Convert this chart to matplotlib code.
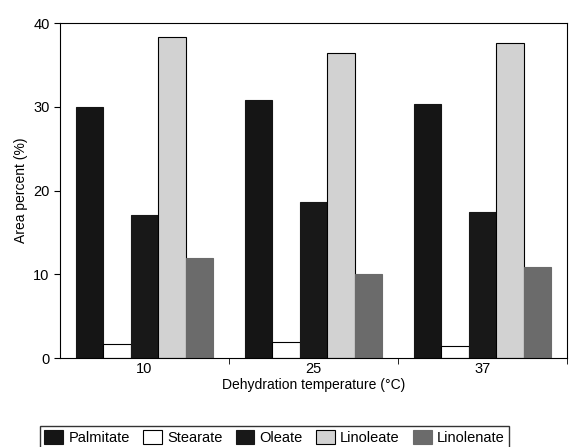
import numpy as np
import matplotlib.pyplot as plt

plt.rcParams['font.family'] = ['Liberation Sans', 'DejaVu Sans']

temps = ['10', '25', '37']
acids = ['Palmitate', 'Stearate', 'Oleate', 'Linoleate', 'Linolenate']
palmitate = [30.0, 30.8, 30.3]
stearate = [1.7, 1.9, 1.4]
oleate = [17.1, 18.6, 17.4]
linoleate = [38.3, 36.4, 37.6]
linolenate = [11.9, 10.0, 10.9]

values = [palmitate, stearate, oleate, linoleate, linolenate]
colors = ['#151515', 'white', '#181818', '#d2d2d2', '#6b6b6b']

fig = plt.figure(figsize=(5.79, 4.47), dpi=100)
ax = fig.add_axes([0.1036, 0.199, 0.8756, 0.7495])

x = np.arange(len(temps))
w = 0.163
for i, (name, vals) in enumerate(zip(acids, values)):
    edge = 'black' if name in ('Stearate', 'Linoleate') else colors[i]
    ax.bar(x + (i - 2) * w, vals, w, color=colors[i], edgecolor=edge,
           linewidth=0.8, label=name)

ax.set_xlim(-0.5, 2.5)
ax.set_ylim(0, 40)
ax.set_yticks([0, 10, 20, 30, 40])
ax.set_xticks(x)
ax.set_xticklabels(temps)
ax.set_xticks([0.5, 1.5, 2.5], minor=True)
ax.tick_params(axis='x', which='major', length=0, labelsize=10.5, pad=3)
ax.tick_params(axis='x', which='minor', length=4, direction='out')
ax.tick_params(axis='y', labelsize=10.5, length=4, direction='out')
ax.set_xlabel('Dehydration temperature (°C)', fontsize=10, labelpad=1)
ax.set_ylabel('Area percent (%)', fontsize=10)
for s in ax.spines.values():
    s.set_linewidth(0.8)

fig.legend(loc='upper left', bbox_to_anchor=(40 / 579, 1 - 426 / 447),
           ncol=5, fontsize=10.5, frameon=True, fancybox=False,
           edgecolor='black', handlelength=1.3, handleheight=1.1,
           columnspacing=0.9, handletextpad=0.35, borderaxespad=0,
           borderpad=0.3)

fig.savefig('out.png', dpi=100)
